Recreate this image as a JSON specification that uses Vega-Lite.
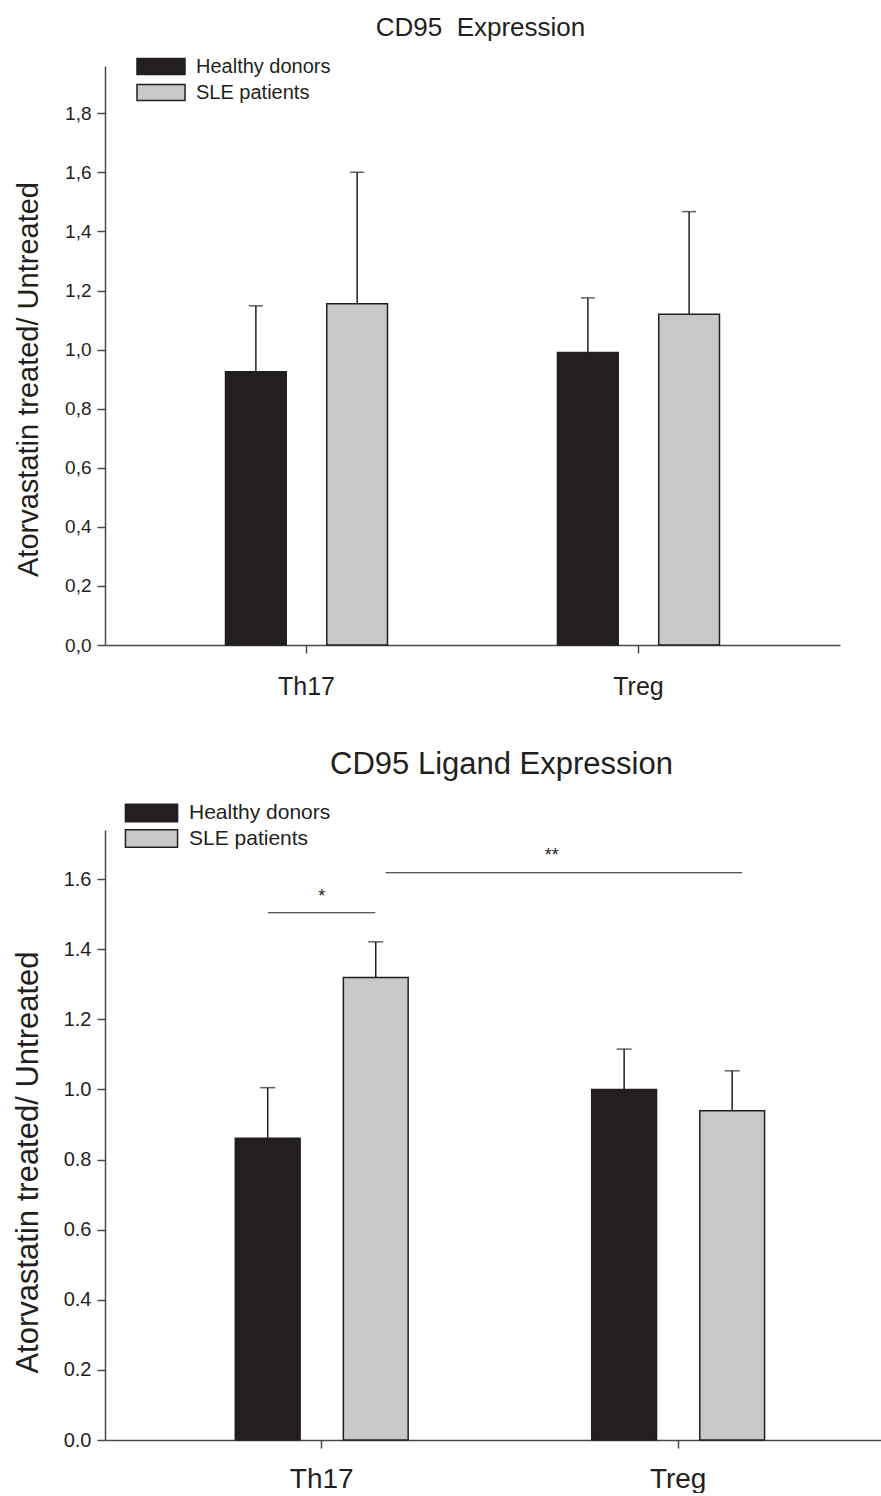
{
  "$schema": "https://vega.github.io/schema/vega-lite/v6.json",
  "background": "white",
  "padding": {"left": 12, "top": 14, "right": 0, "bottom": 0},
  "config": {
    "font": "Liberation Sans",
    "view": {"stroke": null},
    "axis": {"grid": false, "domainColor": "#4a4a4a", "domainWidth": 1.5, "tickColor": "#4a4a4a", "tickWidth": 1.5, "tickSize": 8, "labelColor": "#231f20", "titleColor": "#231f20", "titleFontWeight": "normal"},
    "title": {"color": "#231f20", "fontWeight": "normal", "frame": "group", "anchor": "middle"},
    "legend": {"labelColor": "#231f20"}
  },
  "datasets": {
    "cd95": [
      {"cell": "Th17", "group": "Healthy donors", "mean": 0.925, "upper": 1.148},
      {"cell": "Th17", "group": "SLE patients", "mean": 1.155, "upper": 1.60},
      {"cell": "Treg", "group": "Healthy donors", "mean": 0.99, "upper": 1.175},
      {"cell": "Treg", "group": "SLE patients", "mean": 1.12, "upper": 1.467}
    ],
    "cd95l": [
      {"cell": "Th17", "group": "Healthy donors", "mean": 0.861, "upper": 1.005},
      {"cell": "Th17", "group": "SLE patients", "mean": 1.319, "upper": 1.421},
      {"cell": "Treg", "group": "Healthy donors", "mean": 1.0, "upper": 1.115},
      {"cell": "Treg", "group": "SLE patients", "mean": 0.939, "upper": 1.053}
    ],
    "sig1": [{"from": "Th17", "to": "Th17", "y": 1.504, "ytext": 1.535, "label": "*"}],
    "sig2": [{"from": "Th17", "to": "Treg", "y": 1.618, "ytext": 1.651, "label": "**"}]
  },
  "resolve": {
    "scale": {"x": "independent", "xOffset": "independent", "y": "independent", "color": "independent"},
    "legend": {"color": "independent"}
  },
  "vconcat": [
    {
      "title": {"text": "CD95\u00a0 Expression", "fontSize": 26, "dx": 8, "offset": 16},
      "width": 735,
      "height": 579,
      "layer": [
        {
          "data": {"name": "cd95"},
          "mark": {"type": "bar", "stroke": "#231f20", "strokeWidth": 1.5},
          "encoding": {
            "x": {"field": "cell", "type": "nominal", "sort": null,
                  "scale": {"paddingInner": 0.512, "paddingOuter": 0.363},
                  "axis": {"title": null, "labelAngle": 0, "labelFontSize": 25, "labelPadding": 21, "tickSize": 8}},
            "xOffset": {"field": "group", "type": "nominal", "sort": null, "scale": {"paddingInner": 0.4, "paddingOuter": 0}},
            "y": {"field": "mean", "type": "quantitative",
                  "scale": {"domain": [0, 1.96], "nice": false},
                  "axis": {"title": "Atorvastatin treated/ Untreated", "titleFontSize": 29, "titlePadding": 21, "titleY": 313,
                           "values": [0, 0.2, 0.4, 0.6, 0.8, 1.0, 1.2, 1.4, 1.6, 1.8],
                           "labelExpr": "replace(format(datum.value, '.1f'), '.', ',')",
                           "labelFontSize": 19, "labelPadding": 6}},
            "color": {"field": "group", "type": "nominal",
                      "scale": {"domain": ["Healthy donors", "SLE patients"], "range": ["#231f20", "#c6c8ca"]},
                      "legend": {"title": null, "orient": "none", "legendX": 46, "legendY": -9.5,
                                 "symbolType": "M-3,-1H3V1H-3Z", "symbolSize": 256, "symbolStrokeColor": "#231f20", "symbolStrokeWidth": 1.5,
                                 "labelFontSize": 20, "labelOffset": 25, "rowPadding": 4, "padding": 0}}
          }
        },
        {
          "data": {"name": "cd95"},
          "mark": {"type": "rule", "color": "#231f20", "strokeWidth": 1.5},
          "encoding": {
            "x": {"field": "cell", "type": "nominal", "sort": null},
            "xOffset": {"field": "group", "type": "nominal", "sort": null},
            "y": {"field": "mean", "type": "quantitative"},
            "y2": {"field": "upper"}
          }
        },
        {
          "data": {"name": "cd95"},
          "mark": {"type": "tick", "color": "#231f20", "thickness": 1.5, "size": 14, "orient": "horizontal"},
          "encoding": {
            "x": {"field": "cell", "type": "nominal", "sort": null},
            "xOffset": {"field": "group", "type": "nominal", "sort": null},
            "y": {"field": "upper", "type": "quantitative"}
          }
        },
        {
          "mark": {"type": "rule", "color": "#4a4a4a", "strokeWidth": 1.5},
          "encoding": {
            "x": {"value": "width"},
            "y": {"datum": 0, "type": "quantitative"},
            "y2": {"datum": 1.8}
          }
        }
      ]
    },
    {
      "title": {"text": "CD95 Ligand Expression", "fontSize": 31, "dx": 8, "offset": 22},
      "width": 777,
      "height": 610,
      "layer": [
        {
          "data": {"name": "cd95l"},
          "mark": {"type": "bar", "stroke": "#231f20", "strokeWidth": 1.5},
          "encoding": {
            "x": {"field": "cell", "type": "nominal", "sort": null,
                  "scale": {"paddingInner": 0.515, "paddingOuter": 0.3475, "align": 0.526},
                  "axis": {"title": null, "labelAngle": 0, "labelFontSize": 28, "labelPadding": 17, "tickSize": 8}},
            "xOffset": {"field": "group", "type": "nominal", "sort": null, "scale": {"paddingInner": 0.4, "paddingOuter": 0}},
            "y": {"field": "mean", "type": "quantitative",
                  "scale": {"domain": [0, 1.74], "nice": false},
                  "axis": {"title": "Atorvastatin treated/ Untreated", "titleFontSize": 31, "titlePadding": 19, "titleY": 332,
                           "values": [0, 0.2, 0.4, 0.6, 0.8, 1.0, 1.2, 1.4, 1.6],
                           "format": ".1f", "labelFontSize": 20, "labelPadding": 6}},
            "color": {"field": "group", "type": "nominal",
                      "scale": {"domain": ["Healthy donors", "SLE patients"], "range": ["#231f20", "#c6c8ca"]},
                      "legend": {"title": null, "orient": "none", "legendX": 36, "legendY": -27.5,
                                 "symbolType": "M-3,-1H3V1H-3Z", "symbolSize": 302, "symbolStrokeColor": "#231f20", "symbolStrokeWidth": 1.5,
                                 "labelFontSize": 21, "labelOffset": 27, "rowPadding": 0.5, "padding": 0}}
          }
        },
        {
          "data": {"name": "cd95l"},
          "mark": {"type": "rule", "color": "#231f20", "strokeWidth": 1.5},
          "encoding": {
            "x": {"field": "cell", "type": "nominal", "sort": null},
            "xOffset": {"field": "group", "type": "nominal", "sort": null},
            "y": {"field": "mean", "type": "quantitative"},
            "y2": {"field": "upper"}
          }
        },
        {
          "data": {"name": "cd95l"},
          "mark": {"type": "tick", "color": "#231f20", "thickness": 1.5, "size": 15, "orient": "horizontal"},
          "encoding": {
            "x": {"field": "cell", "type": "nominal", "sort": null},
            "xOffset": {"field": "group", "type": "nominal", "sort": null},
            "y": {"field": "upper", "type": "quantitative"}
          }
        },
        {
          "data": {"name": "sig1"},
          "mark": {"type": "rule", "color": "#231f20", "strokeWidth": 1.2},
          "encoding": {
            "x": {"field": "from", "type": "nominal", "bandPosition": 0.19},
            "x2": {"field": "to", "bandPosition": 0.81},
            "y": {"field": "y", "type": "quantitative"}
          }
        },
        {
          "data": {"name": "sig2"},
          "mark": {"type": "rule", "color": "#231f20", "strokeWidth": 1.2},
          "encoding": {
            "x": {"field": "from", "type": "nominal", "bandPosition": 0.87},
            "x2": {"field": "to", "bandPosition": 0.87},
            "y": {"field": "y", "type": "quantitative"}
          }
        },
        {
          "data": {"name": "sig1"},
          "mark": {"type": "text", "color": "#231f20", "fontSize": 18, "baseline": "alphabetic"},
          "encoding": {
            "x": {"field": "from", "type": "nominal", "bandPosition": 0.5},
            "y": {"field": "ytext", "type": "quantitative"},
            "text": {"field": "label"}
          }
        },
        {
          "data": {"name": "sig2"},
          "mark": {"type": "text", "color": "#231f20", "fontSize": 18, "baseline": "alphabetic"},
          "encoding": {
            "x": {"field": "from", "type": "nominal", "bandPosition": 1.83},
            "y": {"field": "ytext", "type": "quantitative"},
            "text": {"field": "label"}
          }
        }
      ]
    }
  ],
  "bounds": "flush",
  "spacing": 185
}
